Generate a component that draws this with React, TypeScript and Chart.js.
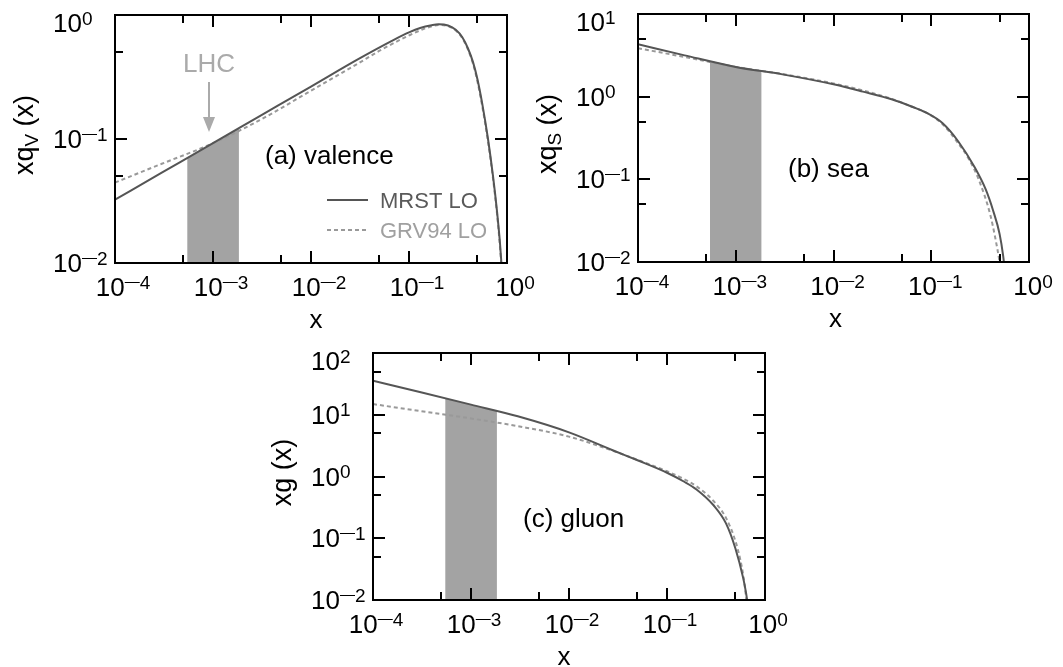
import React, { useEffect, useRef } from "react";
import { Chart, registerables } from "chart.js";

Chart.register(...registerables);

// ---------------- data ----------------
// (a) valence
const xMrstA = [1e-4, 3e-4, 1e-3, 3e-3, 1e-2, 3e-2, 0.07, 0.1, 0.13, 0.17, 0.2, 0.25, 0.3, 0.35, 0.4, 0.45, 0.5, 0.56, 0.64, 0.72, 0.79, 0.85, 0.88];
const mrstA = [0.0324, 0.0535, 0.0927, 0.153, 0.265, 0.439, 0.631, 0.724, 0.785, 0.826, 0.841, 0.822, 0.759, 0.661, 0.537, 0.417, 0.302, 0.191, 0.1, 0.0501, 0.0263, 0.0141, 0.00955];
const xGrvA = [1e-4, 3e-4, 1e-3, 3e-3, 1e-2, 3e-2, 0.05, 0.1, 0.15, 0.2, 0.25, 0.3, 0.35, 0.4, 0.45, 0.5, 0.56, 0.64, 0.72, 0.79, 0.85, 0.88];
const grvA = [0.0445, 0.0631, 0.0925, 0.142, 0.245, 0.405, 0.515, 0.684, 0.785, 0.83, 0.815, 0.75, 0.65, 0.525, 0.405, 0.29, 0.182, 0.0955, 0.0479, 0.0251, 0.0132, 0.0089];

// (b) sea
const xMrstB = [1e-4, 3e-4, 1e-3, 3e-3, 1e-2, 2e-2, 4e-2, 0.06, 0.09, 0.13, 0.19, 0.28, 0.36, 0.43, 0.5, 0.545, 0.565];
const mrstB = [4.3, 3.16, 2.29, 1.86, 1.41, 1.15, 0.923, 0.776, 0.635, 0.479, 0.285, 0.138, 0.0759, 0.0417, 0.0219, 0.0117, 0.0079];
const xGrvB = [1e-4, 3e-4, 1e-3, 3e-3, 1e-2, 2e-2, 4e-2, 0.06, 0.09, 0.13, 0.19, 0.24, 0.31, 0.4, 0.45, 0.5, 0.52];
const grvB = [3.85, 3.02, 2.29, 1.88, 1.445, 1.19, 0.933, 0.776, 0.635, 0.468, 0.27, 0.18, 0.0955, 0.038, 0.02, 0.01, 0.0071];

// (c) gluon
const xMrstC = [1e-4, 3e-4, 1e-3, 3e-3, 1e-2, 3e-2, 0.05, 0.1, 0.15, 0.2, 0.3, 0.4, 0.5, 0.6, 0.64, 0.66];
const mrstC = [35.6, 23.4, 14.6, 9.44, 5.19, 2.54, 1.83, 1.15, 0.822, 0.617, 0.339, 0.174, 0.0676, 0.0224, 0.0132, 0.00955];
const xGrvC = [1e-4, 3e-4, 1e-3, 3e-3, 1e-2, 3e-2, 0.05, 0.1, 0.15, 0.2, 0.3, 0.4, 0.5, 0.56, 0.6, 0.63, 0.65];
const grvC = [14.9, 11.5, 8.71, 6.53, 4.42, 2.51, 1.86, 1.216, 0.902, 0.692, 0.398, 0.214, 0.0891, 0.0447, 0.0251, 0.0141, 0.0089];

// LHC band (x range) and the MRST values at its edges
const bandX = [5.45e-4, 1.84e-3];
const bandA = [0.0702, 0.1225];
const bandB = [2.7, 2.04];
const bandC = [18.5, 11.5];

// ticks
const xTickExps = [-4, -3, -2, -1, 0];
const xMinorTicks = [5e-4, 5e-3, 5e-2, 5e-1];
const yTickExpsA = [-2, -1, 0];
const yMinorA = [5e-2, 5e-1];
const yTickExpsB = [-2, -1, 0, 1];
const yMinorB = [5e-2, 5e-1, 5];
const yTickExpsC = [-2, -1, 0, 1, 2];
const yMinorC = [5e-2, 5e-1, 5, 50];

const seriesLabels = ["MRST LO", "GRV94 LO"];
const bandLabel = "LHC";

// ---------------- styling ----------------
const FONT = '"Liberation Sans", Arial, Helvetica, sans-serif';
const MRST_COLOR = "#555555";
const GRV_COLOR = "#999999";
const BAND_COLOR = "#a3a3a3";

interface PanelCfg {
  key: string;
  canvas: { left: number; top: number; width: number; height: number };
  plot: { left: number; top: number; right: number; bottom: number };
  yExps: number[];
  yMinor: number[];
  mrstX: number[];
  mrstY: number[];
  grvX: number[];
  grvY: number[];
  band: number[];
  label: string;
  labelY: number;
  yTitle: [string, string, string];
  xLabelShift: number;
  xTitleShift: number;
  legend: boolean;
}

const panels: PanelCfg[] = [
  {
    key: "a",
    canvas: { left: 0, top: 0, width: 548, height: 335 },
    plot: { left: 115, top: 15, right: 507, bottom: 263 },
    yExps: yTickExpsA,
    yMinor: yMinorA,
    mrstX: xMrstA,
    mrstY: mrstA,
    grvX: xGrvA,
    grvY: grvA,
    band: bandA,
    label: "(a) valence",
    labelY: 149,
    yTitle: ["xq", "V", " (x)"],
    xLabelShift: 8,
    xTitleShift: 5,
    legend: true,
  },
  {
    key: "b",
    canvas: { left: 531, top: 0, width: 532, height: 335 },
    plot: { left: 638, top: 14, right: 1029, bottom: 262 },
    yExps: yTickExpsB,
    yMinor: yMinorB,
    mrstX: xMrstB,
    mrstY: mrstB,
    grvX: xGrvB,
    grvY: grvB,
    band: bandB,
    label: "(b) sea",
    labelY: 163,
    yTitle: ["xq", "S", " (x)"],
    xLabelShift: 4,
    xTitleShift: 2,
    legend: false,
  },
  {
    key: "c",
    canvas: { left: 260, top: 335, width: 540, height: 332 },
    plot: { left: 373, top: 353, right: 765, bottom: 600 },
    yExps: yTickExpsC,
    yMinor: yMinorC,
    mrstX: xMrstC,
    mrstY: mrstC,
    grvX: xGrvC,
    grvY: grvC,
    band: bandC,
    label: "(c) gluon",
    labelY: 174,
    yTitle: ["xg", "", " (x)"],
    xLabelShift: 3,
    xTitleShift: -5,
    legend: false,
  },
];

const pts = (xs: number[], ys: number[]) => xs.map((x, i) => ({ x, y: ys[i] }));

function drawPower(ctx: CanvasRenderingContext2D, exp: number, x: number, baseline: number, mode: "left" | "center") {
  const baseFont = `26px ${FONT}`;
  const expFont = `19px ${FONT}`;
  const dashFont = `15px ${FONT}`;
  const neg = exp < 0;
  const digits = String(Math.abs(exp));
  ctx.font = baseFont;
  const wBase = ctx.measureText("10").width;
  ctx.font = dashFont;
  const wDash = neg ? ctx.measureText("\u2014").width : 0;
  ctx.font = expFont;
  const wDig = ctx.measureText(digits).width;
  const total = wBase + wDash + wDig;
  const x0 = mode === "center" ? x - total / 2 : x;
  ctx.textAlign = "left";
  ctx.textBaseline = "alphabetic";
  ctx.font = baseFont;
  ctx.fillText("10", x0, baseline);
  let cx = x0 + wBase;
  if (neg) {
    ctx.font = dashFont;
    ctx.fillText("\u2014", cx, baseline - 10.5);
    cx += wDash;
  }
  ctx.font = expFont;
  ctx.fillText(digits, cx, baseline - 7.5);
}

function makeDecor(p: PanelCfg) {
  return {
    id: "decor_" + p.key,
    afterDraw(chart: any) {
      const ctx: CanvasRenderingContext2D = chart.ctx;
      const ca = chart.chartArea;
      const xs = chart.scales.x;
      const ys = chart.scales.y;
      ctx.save();
      // frame
      ctx.strokeStyle = "#000";
      ctx.lineWidth = 2;
      ctx.strokeRect(ca.left, ca.top, ca.right - ca.left, ca.bottom - ca.top);
      const seg = (x1: number, y1: number, x2: number, y2: number) => {
        ctx.beginPath();
        ctx.moveTo(x1, y1);
        ctx.lineTo(x2, y2);
        ctx.stroke();
      };
      // ticks (inward, all four sides)
      const xt: [number, number][] = [
        ...xTickExps.map((e) => [Math.pow(10, e), 12] as [number, number]),
        ...xMinorTicks.map((v) => [v, 8] as [number, number]),
      ];
      xt.forEach(([v, len]) => {
        const px = Math.round(xs.getPixelForValue(v));
        seg(px, ca.bottom, px, ca.bottom - len);
        seg(px, ca.top, px, ca.top + len);
      });
      const yt: [number, number][] = [
        ...p.yExps.map((e) => [Math.pow(10, e), 12] as [number, number]),
        ...p.yMinor.map((v) => [v, 8] as [number, number]),
      ];
      yt.forEach(([v, len]) => {
        const py = Math.round(ys.getPixelForValue(v));
        seg(ca.left, py, ca.left + len, py);
        seg(ca.right, py, ca.right - len, py);
      });
      // tick labels
      ctx.fillStyle = "#000";
      xTickExps.forEach((e) => {
        drawPower(ctx, e, xs.getPixelForValue(Math.pow(10, e)) + p.xLabelShift, ca.bottom + 33, "center");
      });
      const yMaxExp = Math.max(...p.yExps);
      p.yExps.forEach((e) => {
        let base = ys.getPixelForValue(Math.pow(10, e)) + 9;
        if (e === yMaxExp) base += 8;
        drawPower(ctx, e, ca.left - 62, base, "left");
      });
      // x title
      ctx.font = `26px ${FONT}`;
      ctx.textAlign = "center";
      ctx.textBaseline = "alphabetic";
      ctx.fillText("x", (ca.left + ca.right) / 2 + p.xTitleShift, ca.bottom + 65);
      // y title (rotated, with subscript)
      const parts: [string, number, number][] = [
        [p.yTitle[0], 27, 0],
        [p.yTitle[1], 19, 5],
        [p.yTitle[2], 27, 0],
      ];
      let total = 0;
      const widths = parts.map(([t, sz]) => {
        ctx.font = `${sz}px ${FONT}`;
        const w = t ? ctx.measureText(t).width : 0;
        total += w;
        return w;
      });
      ctx.save();
      ctx.translate(ca.left - 82, (ca.top + ca.bottom) / 2 - 4);
      ctx.rotate(-Math.PI / 2);
      ctx.textAlign = "left";
      let cx = -total / 2;
      parts.forEach(([t, sz, dy], i) => {
        if (!t) return;
        ctx.font = `${sz}px ${FONT}`;
        ctx.fillText(t, cx, dy);
        cx += widths[i];
      });
      ctx.restore();
      // panel label
      ctx.font = `26px ${FONT}`;
      ctx.textAlign = "left";
      ctx.fillStyle = "#000";
      ctx.fillText(p.label, ca.left + 150, ca.top + p.labelY);

      if (p.legend) {
        const lx0 = ca.left + 212;
        const lx1 = ca.left + 253;
        const y1 = ca.top + 185;
        const y2 = ca.top + 215;
        ctx.lineWidth = 2;
        ctx.strokeStyle = MRST_COLOR;
        seg(lx0, y1, lx1, y1);
        ctx.strokeStyle = GRV_COLOR;
        ctx.setLineDash([4, 3]);
        seg(lx0, y2, lx1, y2);
        ctx.setLineDash([]);
        ctx.font = `22px ${FONT}`;
        ctx.fillStyle = "#5a5a5a";
        ctx.fillText(seriesLabels[0], ca.left + 265, y1 + 8);
        ctx.fillStyle = "#a0a0a0";
        ctx.fillText(seriesLabels[1], ca.left + 265, y2 + 8);

        // LHC arrow
        const ax = ca.left + 94;
        ctx.fillStyle = "#aaaaaa";
        ctx.font = `26px ${FONT}`;
        ctx.textAlign = "center";
        ctx.fillText(bandLabel, ax, ca.top + 57);
        ctx.strokeStyle = "#aaaaaa";
        ctx.lineWidth = 2;
        seg(ax, ca.top + 67, ax, ca.top + 104);
        ctx.beginPath();
        ctx.moveTo(ax - 6, ca.top + 102);
        ctx.lineTo(ax + 6, ca.top + 102);
        ctx.lineTo(ax, ca.top + 117);
        ctx.closePath();
        ctx.fill();
      }
      ctx.restore();
    },
  };
}

function buildChart(canvas: HTMLCanvasElement, p: PanelCfg) {
  const yMin = Math.pow(10, Math.min(...p.yExps));
  const yMax = Math.pow(10, Math.max(...p.yExps));
  const padTop = p.plot.top - p.canvas.top;
  const padRight = p.canvas.left + p.canvas.width - p.plot.right;
  const yWidth = p.plot.left - p.canvas.left;
  const xHeight = p.canvas.top + p.canvas.height - p.plot.bottom;
  return new Chart(canvas, {
    type: "line",
    data: {
      datasets: [
        {
          label: seriesLabels[0],
          data: pts(p.mrstX, p.mrstY),
          borderColor: MRST_COLOR,
          borderWidth: 2,
          pointRadius: 0,
          fill: false,
          cubicInterpolationMode: "monotone",
          order: 0,
          clip: 0,
        } as any,
        {
          label: seriesLabels[1],
          data: pts(p.grvX, p.grvY),
          borderColor: GRV_COLOR,
          borderDash: [4, 3],
          borderWidth: 2,
          pointRadius: 0,
          fill: false,
          cubicInterpolationMode: "monotone",
          order: 1,
          clip: 0,
        } as any,
        {
          label: bandLabel,
          data: pts(bandX, p.band),
          borderColor: "rgba(0,0,0,0)",
          borderWidth: 0,
          backgroundColor: BAND_COLOR,
          pointRadius: 0,
          fill: "start",
          tension: 0,
          order: 2,
          clip: 0,
        } as any,
      ],
    },
    options: {
      responsive: false,
      maintainAspectRatio: false,
      animation: false,
      events: [],
      layout: { padding: { top: padTop, right: padRight, left: 0, bottom: 0 }, autoPadding: false } as any,
      plugins: { legend: { display: false }, tooltip: { enabled: false }, title: { display: false } },
      scales: {
        x: {
          type: "logarithmic",
          position: "bottom",
          min: 1e-4,
          max: 1,
          grid: { display: false },
          border: { display: false },
          ticks: { display: false },
          title: { display: false },
          afterFit: (s: any) => {
            s.height = xHeight;
          },
        },
        y: {
          type: "logarithmic",
          position: "left",
          min: yMin,
          max: yMax,
          grid: { display: false },
          border: { display: false },
          ticks: { display: false },
          title: { display: false },
          afterFit: (s: any) => {
            s.width = yWidth;
          },
        },
      },
    } as any,
    plugins: [makeDecor(p)],
  });
}

export default function App() {
  const refA = useRef<HTMLCanvasElement>(null);
  const refB = useRef<HTMLCanvasElement>(null);
  const refC = useRef<HTMLCanvasElement>(null);

  useEffect(() => {
    const refs = [refA, refB, refC];
    const charts = panels.map((p, i) => buildChart(refs[i].current as HTMLCanvasElement, p));
    return () => charts.forEach((c) => c.destroy());
  }, []);

  const refs = [refA, refB, refC];
  return (
    <div style={{ position: "fixed", left: 0, top: 0, width: 1063, height: 667, background: "#fff" }}>
      {panels.map((p, i) => (
        <canvas
          key={p.key}
          ref={refs[i]}
          width={p.canvas.width}
          height={p.canvas.height}
          style={{
            position: "absolute",
            left: p.canvas.left,
            top: p.canvas.top,
            width: p.canvas.width,
            height: p.canvas.height,
          }}
        />
      ))}
    </div>
  );
}
